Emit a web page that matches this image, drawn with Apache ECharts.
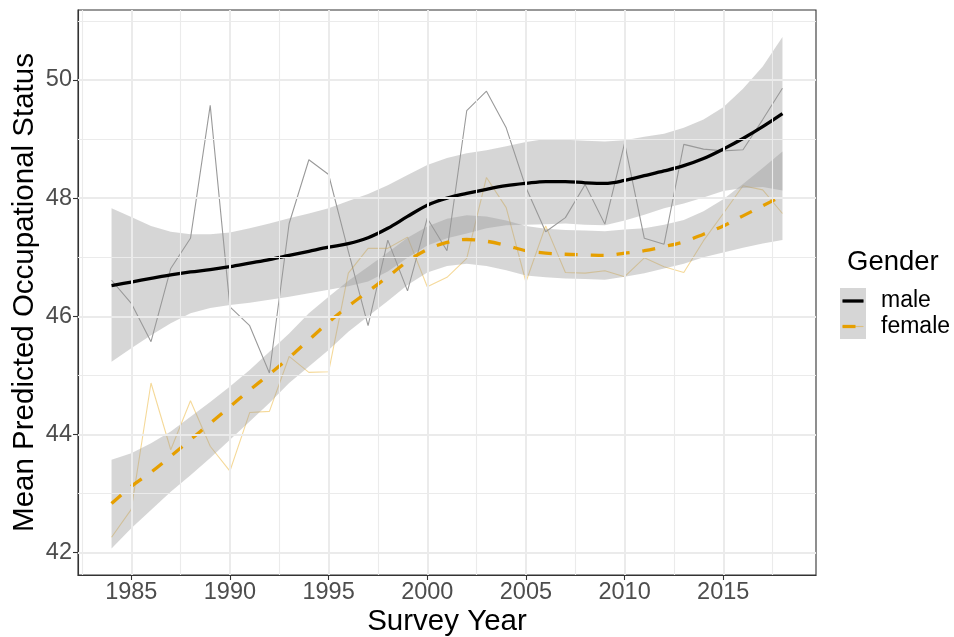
<!DOCTYPE html>
<html>
<head>
<meta charset="utf-8">
<title>Mean Predicted Occupational Status by Gender</title>
<script src="https://cdn.jsdelivr.net/npm/echarts@6/dist/echarts.min.js"></script>
<style>
  html, body { margin: 0; padding: 0; background: #ffffff; }
  #chart { width: 954px; height: 637px; }
</style>
</head>
<body>
<div id="chart"></div>
<script>
// Survey years
const years = [1984, 1985, 1986, 1987, 1988, 1989, 1990, 1991, 1992, 1993, 1994, 1995,
  1996, 1997, 1998, 1999, 2000, 2001, 2002, 2003, 2004, 2005, 2006, 2007,
  2008, 2009, 2010, 2011, 2012, 2013, 2014, 2015, 2016, 2017, 2018];

// Yearly means
const maleMean = [46.61, 46.22, 45.57, 46.81, 47.32, 49.57, 46.16, 45.84, 45.04, 47.57, 48.65, 48.40,
  47.10, 45.84, 47.29, 46.43, 47.66, 47.11, 49.48, 49.81, 49.19, 48.18, 47.43, 47.67,
  48.23, 47.56, 48.93, 47.32, 47.22, 48.91, 48.83, 48.80, 48.82, 49.33, 49.86];
const femaleMean = [42.26, 42.73, 44.87, 43.74, 44.57, 43.80, 43.38, 44.37, 44.39, 45.32, 45.05, 45.06,
  46.73, 47.15, 47.15, 47.34, 46.50, 46.66, 46.98, 48.35, 47.84, 46.58, 47.53, 46.74,
  46.73, 46.77, 46.67, 46.99, 46.84, 46.74, 47.28, 47.74, 48.21, 48.14, 47.74];

// Smoothed trend
const maleFit = [46.52, 46.58, 46.64, 46.70, 46.75, 46.79, 46.84, 46.90, 46.96, 47.03, 47.10, 47.17,
  47.23, 47.33, 47.49, 47.69, 47.88, 48.00, 48.08, 48.15, 48.21, 48.25, 48.28, 48.28,
  48.26, 48.25, 48.30, 48.38, 48.46, 48.55, 48.67, 48.83, 49.01, 49.21, 49.43];
const femaleFit = [42.83, 43.12, 43.36, 43.63, 43.91, 44.19, 44.47, 44.75, 45.02, 45.30, 45.60, 45.90,
  46.17, 46.42, 46.67, 46.93, 47.13, 47.25, 47.30, 47.27, 47.20, 47.11, 47.07, 47.05,
  47.04, 47.03, 47.07, 47.11, 47.18, 47.26, 47.39, 47.53, 47.70, 47.87, 48.04];

// Confidence band limits
const maleLower = [45.23, 45.46, 45.68, 45.88, 46.05, 46.14, 46.19, 46.23, 46.28, 46.33, 46.39, 46.45,
  46.51, 46.59, 46.76, 46.99, 47.20, 47.32, 47.40, 47.49, 47.54, 47.55, 47.56, 47.57,
  47.55, 47.54, 47.62, 47.72, 47.83, 47.91, 48.01, 48.12, 48.17, 48.19, 48.13];
const maleUpper = [47.83, 47.68, 47.53, 47.43, 47.39, 47.39, 47.42, 47.49, 47.57, 47.66, 47.74, 47.83,
  47.95, 48.07, 48.22, 48.39, 48.56, 48.68, 48.76, 48.81, 48.88, 48.95, 49.00, 48.99,
  48.97, 48.96, 48.98, 49.04, 49.09, 49.19, 49.33, 49.54, 49.85, 50.23, 50.73];
const femaleLower = [42.07, 42.41, 42.72, 43.03, 43.31, 43.60, 43.91, 44.22, 44.53, 44.87, 45.15, 45.43,
  45.74, 46.00, 46.26, 46.53, 46.74, 46.85, 46.89, 46.85, 46.78, 46.69, 46.66, 46.64,
  46.63, 46.62, 46.67, 46.73, 46.81, 46.89, 47.00, 47.08, 47.16, 47.23, 47.29];
const femaleUpper = [43.57, 43.68, 43.85, 44.05, 44.30, 44.55, 44.81, 45.09, 45.40, 45.71, 46.05, 46.33,
  46.60, 46.84, 47.08, 47.33, 47.52, 47.65, 47.71, 47.69, 47.62, 47.53, 47.48, 47.46,
  47.45, 47.44, 47.47, 47.49, 47.55, 47.63, 47.78, 47.98, 48.24, 48.51, 48.79];

// Axis ticks and grid positions
const xTicks = [1985, 1990, 1995, 2000, 2005, 2010, 2015];
const xMinor = [1982.5, 1987.5, 1992.5, 1997.5, 2002.5, 2007.5, 2012.5, 2017.5];
const yTicks = [42, 44, 46, 48, 50];
const yMinor = [43, 45, 47, 49, 51];

const groups = ['male', 'female'];

const FONT = '"Liberation Sans", Arial, Helvetica, sans-serif';
const ORANGE = '#E69F00';
const RIBBON = 'rgba(153,153,153,0.4)';
const GRID_COLOR = '#EBEBEB';

const pairs = arr => years.map((y, i) => [y, arr[i]]);

const gridLines = [].concat(
  xMinor.map(v => ({ xAxis: v, lineStyle: { color: GRID_COLOR, width: 1.1, type: 'solid' } })),
  yMinor.map(v => ({ yAxis: v, lineStyle: { color: GRID_COLOR, width: 1.1, type: 'solid' } })),
  xTicks.map(v => ({ xAxis: v, lineStyle: { color: GRID_COLOR, width: 2, type: 'solid' } })),
  yTicks.map(v => ({ yAxis: v, lineStyle: { color: GRID_COLOR, width: 2, type: 'solid' } }))
);

// One filled polygon per group: upper edge left to right, lower edge back again
function bandSeries(name, lo, hi) {
  return {
    name: name + '-band', type: 'custom', coordinateSystem: 'cartesian2d', silent: true, z: 3,
    data: [[years[0], lo[0]]],
    renderItem: function (params, api) {
      const pts = [];
      for (let i = 0; i < years.length; i++) pts.push(api.coord([years[i], hi[i]]));
      for (let i = years.length - 1; i >= 0; i--) pts.push(api.coord([years[i], lo[i]]));
      return { type: 'polygon', shape: { points: pts }, style: { fill: RIBBON, stroke: null } };
    }
  };
}

const chart = echarts.init(document.getElementById('chart'), null, { renderer: 'canvas' });

const axisLabelStyle = { fontSize: 23.5, color: '#4D4D4D', margin: 6, fontFamily: FONT };

const option = {
  animation: false,
  backgroundColor: '#ffffff',
  textStyle: { fontFamily: FONT },
  grid: {
    left: 78, right: 138, top: 10, bottom: 62,
    show: true, backgroundColor: '#ffffff', borderColor: '#333333', borderWidth: 1.1,
    containLabel: false, outerBoundsMode: 'none'
  },
  xAxis: {
    type: 'value', min: 1982.3, max: 2019.7,
    name: 'Survey Year', nameLocation: 'middle', nameGap: 32, nameMoveOverlap: false,
    nameTextStyle: { fontSize: 29.5, color: '#000000', fontFamily: FONT },
    axisLine: { show: true, onZero: false, lineStyle: { color: '#333333', width: 1.1 } },
    axisTick: { show: true, customValues: xTicks, length: 5, lineStyle: { color: '#333333', width: 1.1 } },
    axisLabel: Object.assign({ customValues: xTicks, formatter: v => String(v) }, axisLabelStyle),
    splitLine: { show: false }
  },
  yAxis: {
    type: 'value', min: 41.62, max: 51.185,
    name: 'Mean Predicted Occupational Status', nameLocation: 'middle', nameGap: 38, nameRotate: 90,
    nameMoveOverlap: false,
    nameTextStyle: { fontSize: 29.5, color: '#000000', fontFamily: FONT },
    axisLine: { show: true, onZero: false, lineStyle: { color: '#333333', width: 1.1 } },
    axisTick: { show: true, customValues: yTicks, length: 5, lineStyle: { color: '#333333', width: 1.1 } },
    axisLabel: Object.assign({ customValues: yTicks, formatter: v => String(v) }, axisLabelStyle),
    splitLine: { show: false }
  },
  series: [
    {
      name: 'grid', type: 'line', data: [], silent: true, z: 0,
      markLine: { silent: true, symbol: ['none', 'none'], label: { show: false }, animation: false,
        emphasis: { disabled: true }, data: gridLines }
    },
    {
      name: groups[0] + '-mean', type: 'line', data: pairs(maleMean), symbol: 'none', z: 2, silent: true,
      lineStyle: { color: 'rgba(0,0,0,0.4)', width: 1.1 }
    },
    {
      name: groups[1] + '-mean', type: 'line', data: pairs(femaleMean), symbol: 'none', z: 2, silent: true,
      lineStyle: { color: 'rgba(230,159,0,0.4)', width: 1.1 }
    },
    bandSeries(groups[0], maleLower, maleUpper),
    bandSeries(groups[1], femaleLower, femaleUpper),
    {
      name: groups[0], type: 'line', data: pairs(maleFit), symbol: 'none', smooth: 0.35, z: 4, silent: true,
      lineStyle: { color: '#000000', width: 3.3, cap: 'butt' }
    },
    {
      name: groups[1], type: 'line', data: pairs(femaleFit), symbol: 'none', smooth: 0.35, z: 4, silent: true,
      lineStyle: { color: ORANGE, width: 3.3, type: [13, 13], cap: 'butt' }
    }
  ],
  graphic: [
    { type: 'text', x: 847, y: 262, silent: true,
      style: { text: 'Gender', fill: '#000000', font: '27.5px ' + FONT,
        align: 'left', verticalAlign: 'middle', textAlign: 'left', textVerticalAlign: 'middle' } },
    { type: 'rect', shape: { x: 840, y: 288, width: 26, height: 51 }, silent: true,
      style: { fill: '#D6D6D6' } },
    { type: 'line', shape: { x1: 842.5, y1: 301, x2: 863.5, y2: 301 }, silent: true,
      style: { stroke: 'rgba(0,0,0,0.4)', lineWidth: 1.1 } },
    { type: 'line', shape: { x1: 842.5, y1: 301, x2: 863.5, y2: 301 }, silent: true,
      style: { stroke: '#000000', lineWidth: 3.3 } },
    { type: 'line', shape: { x1: 842.5, y1: 326.5, x2: 863.5, y2: 326.5 }, silent: true,
      style: { stroke: 'rgba(230,159,0,0.4)', lineWidth: 1.1 } },
    { type: 'line', shape: { x1: 842.5, y1: 326.5, x2: 863.5, y2: 326.5 }, silent: true,
      style: { stroke: ORANGE, lineWidth: 3.3, lineDash: [13, 13] } },
    { type: 'text', x: 881, y: 301, silent: true,
      style: { text: groups[0], fill: '#000000', font: '23px ' + FONT,
        align: 'left', verticalAlign: 'middle', textAlign: 'left', textVerticalAlign: 'middle' } },
    { type: 'text', x: 881, y: 327, silent: true,
      style: { text: groups[1], fill: '#000000', font: '23px ' + FONT,
        align: 'left', verticalAlign: 'middle', textAlign: 'left', textVerticalAlign: 'middle' } }
  ]
};

chart.setOption(option);
</script>
</body>
</html>
